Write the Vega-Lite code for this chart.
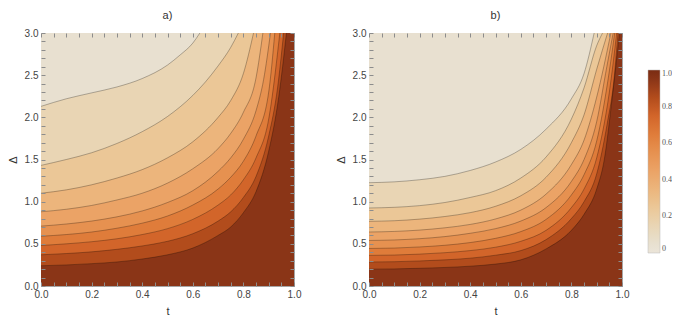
{
"$schema":"https://vega.github.io/schema/vega-lite/v6.json",
"padding":{"left":6,"top":9,"right":0,"bottom":0},
"config":{
 "view":{"stroke":"#a6a6a6","strokeWidth":1},
 "axis":{"domain":false,"grid":false,"zindex":1,"labelFlush":false,"labelFont":"Liberation Sans","labelFontSize":10,"labelColor":"#444","titleFont":"Liberation Sans","titleFontSize":11,"titleFontWeight":"normal","titleColor":"#333","tickColor":"#8c8c8c","tickWidth":1,"tickSize":4,"offset":-4},
 "title":{"font":"Liberation Sans","fontSize":11,"fontWeight":"normal","color":"#333","offset":7}
},
"datasets":{"c":[
{"p":"a","lev":1,"band":0.95,"t":0,"d":0},{"p":"a","lev":1,"band":0.95,"t":1,"d":0},
{"p":"a","lev":0.9,"band":0.85,"t":0,"d":0.24},{"p":"a","lev":0.9,"band":0.85,"t":0.1,"d":0.25},{"p":"a","lev":0.9,"band":0.85,"t":0.2,"d":0.265},{"p":"a","lev":0.9,"band":0.85,"t":0.3,"d":0.285},{"p":"a","lev":0.9,"band":0.85,"t":0.4,"d":0.32},{"p":"a","lev":0.9,"band":0.85,"t":0.5,"d":0.37},{"p":"a","lev":0.9,"band":0.85,"t":0.6,"d":0.45},{"p":"a","lev":0.9,"band":0.85,"t":0.7,"d":0.6},{"p":"a","lev":0.9,"band":0.85,"t":0.75,"d":0.7},{"p":"a","lev":0.9,"band":0.85,"t":0.8,"d":0.87},{"p":"a","lev":0.9,"band":0.85,"t":0.85,"d":1.12},{"p":"a","lev":0.9,"band":0.85,"t":0.9,"d":1.6},{"p":"a","lev":0.9,"band":0.85,"t":0.94,"d":2.25},{"p":"a","lev":0.9,"band":0.85,"t":0.97,"d":3.0},
{"p":"a","lev":0.8,"band":0.75,"t":0,"d":0.37},{"p":"a","lev":0.8,"band":0.75,"t":0.1,"d":0.385},{"p":"a","lev":0.8,"band":0.75,"t":0.2,"d":0.405},{"p":"a","lev":0.8,"band":0.75,"t":0.3,"d":0.435},{"p":"a","lev":0.8,"band":0.75,"t":0.4,"d":0.475},{"p":"a","lev":0.8,"band":0.75,"t":0.5,"d":0.53},{"p":"a","lev":0.8,"band":0.75,"t":0.6,"d":0.62},{"p":"a","lev":0.8,"band":0.75,"t":0.7,"d":0.77},{"p":"a","lev":0.8,"band":0.75,"t":0.75,"d":0.88},{"p":"a","lev":0.8,"band":0.75,"t":0.8,"d":1.05},{"p":"a","lev":0.8,"band":0.75,"t":0.85,"d":1.3},{"p":"a","lev":0.8,"band":0.75,"t":0.9,"d":1.78},{"p":"a","lev":0.8,"band":0.75,"t":0.935,"d":2.35},{"p":"a","lev":0.8,"band":0.75,"t":0.959,"d":3.0},
{"p":"a","lev":0.7,"band":0.65,"t":0,"d":0.48},{"p":"a","lev":0.7,"band":0.65,"t":0.1,"d":0.5},{"p":"a","lev":0.7,"band":0.65,"t":0.2,"d":0.525},{"p":"a","lev":0.7,"band":0.65,"t":0.3,"d":0.56},{"p":"a","lev":0.7,"band":0.65,"t":0.4,"d":0.61},{"p":"a","lev":0.7,"band":0.65,"t":0.5,"d":0.68},{"p":"a","lev":0.7,"band":0.65,"t":0.6,"d":0.79},{"p":"a","lev":0.7,"band":0.65,"t":0.7,"d":0.96},{"p":"a","lev":0.7,"band":0.65,"t":0.75,"d":1.08},{"p":"a","lev":0.7,"band":0.65,"t":0.8,"d":1.26},{"p":"a","lev":0.7,"band":0.65,"t":0.85,"d":1.52},{"p":"a","lev":0.7,"band":0.65,"t":0.9,"d":1.98},{"p":"a","lev":0.7,"band":0.65,"t":0.944,"d":3.0},
{"p":"a","lev":0.6,"band":0.55,"t":0,"d":0.59},{"p":"a","lev":0.6,"band":0.55,"t":0.1,"d":0.61},{"p":"a","lev":0.6,"band":0.55,"t":0.2,"d":0.64},{"p":"a","lev":0.6,"band":0.55,"t":0.3,"d":0.685},{"p":"a","lev":0.6,"band":0.55,"t":0.4,"d":0.745},{"p":"a","lev":0.6,"band":0.55,"t":0.5,"d":0.83},{"p":"a","lev":0.6,"band":0.55,"t":0.6,"d":0.96},{"p":"a","lev":0.6,"band":0.55,"t":0.7,"d":1.15},{"p":"a","lev":0.6,"band":0.55,"t":0.75,"d":1.29},{"p":"a","lev":0.6,"band":0.55,"t":0.8,"d":1.48},{"p":"a","lev":0.6,"band":0.55,"t":0.85,"d":1.78},{"p":"a","lev":0.6,"band":0.55,"t":0.9,"d":2.3},{"p":"a","lev":0.6,"band":0.55,"t":0.924,"d":3.0},
{"p":"a","lev":0.5,"band":0.45,"t":0,"d":0.71},{"p":"a","lev":0.5,"band":0.45,"t":0.1,"d":0.735},{"p":"a","lev":0.5,"band":0.45,"t":0.2,"d":0.77},{"p":"a","lev":0.5,"band":0.45,"t":0.3,"d":0.82},{"p":"a","lev":0.5,"band":0.45,"t":0.4,"d":0.89},{"p":"a","lev":0.5,"band":0.45,"t":0.5,"d":0.99},{"p":"a","lev":0.5,"band":0.45,"t":0.6,"d":1.13},{"p":"a","lev":0.5,"band":0.45,"t":0.7,"d":1.36},{"p":"a","lev":0.5,"band":0.45,"t":0.75,"d":1.52},{"p":"a","lev":0.5,"band":0.45,"t":0.8,"d":1.74},{"p":"a","lev":0.5,"band":0.45,"t":0.85,"d":2.08},{"p":"a","lev":0.5,"band":0.45,"t":0.88,"d":2.45},{"p":"a","lev":0.5,"band":0.45,"t":0.907,"d":3.0},
{"p":"a","lev":0.4,"band":0.35,"t":0,"d":0.88},{"p":"a","lev":0.4,"band":0.35,"t":0.1,"d":0.91},{"p":"a","lev":0.4,"band":0.35,"t":0.2,"d":0.955},{"p":"a","lev":0.4,"band":0.35,"t":0.3,"d":1.02},{"p":"a","lev":0.4,"band":0.35,"t":0.4,"d":1.1},{"p":"a","lev":0.4,"band":0.35,"t":0.5,"d":1.22},{"p":"a","lev":0.4,"band":0.35,"t":0.6,"d":1.39},{"p":"a","lev":0.4,"band":0.35,"t":0.7,"d":1.63},{"p":"a","lev":0.4,"band":0.35,"t":0.75,"d":1.81},{"p":"a","lev":0.4,"band":0.35,"t":0.8,"d":2.06},{"p":"a","lev":0.4,"band":0.35,"t":0.85,"d":2.47},{"p":"a","lev":0.4,"band":0.35,"t":0.877,"d":3.0},
{"p":"a","lev":0.3,"band":0.25,"t":0,"d":1.1},{"p":"a","lev":0.3,"band":0.25,"t":0.1,"d":1.14},{"p":"a","lev":0.3,"band":0.25,"t":0.2,"d":1.2},{"p":"a","lev":0.3,"band":0.25,"t":0.3,"d":1.28},{"p":"a","lev":0.3,"band":0.25,"t":0.4,"d":1.38},{"p":"a","lev":0.3,"band":0.25,"t":0.5,"d":1.52},{"p":"a","lev":0.3,"band":0.25,"t":0.6,"d":1.71},{"p":"a","lev":0.3,"band":0.25,"t":0.7,"d":2.0},{"p":"a","lev":0.3,"band":0.25,"t":0.75,"d":2.2},{"p":"a","lev":0.3,"band":0.25,"t":0.8,"d":2.52},{"p":"a","lev":0.3,"band":0.25,"t":0.84,"d":3.0},
{"p":"a","lev":0.2,"band":0.15,"t":0,"d":1.43},{"p":"a","lev":0.2,"band":0.15,"t":0.1,"d":1.5},{"p":"a","lev":0.2,"band":0.15,"t":0.2,"d":1.58},{"p":"a","lev":0.2,"band":0.15,"t":0.3,"d":1.69},{"p":"a","lev":0.2,"band":0.15,"t":0.4,"d":1.83},{"p":"a","lev":0.2,"band":0.15,"t":0.5,"d":2.01},{"p":"a","lev":0.2,"band":0.15,"t":0.6,"d":2.26},{"p":"a","lev":0.2,"band":0.15,"t":0.65,"d":2.42},{"p":"a","lev":0.2,"band":0.15,"t":0.7,"d":2.61},{"p":"a","lev":0.2,"band":0.15,"t":0.75,"d":2.83},{"p":"a","lev":0.2,"band":0.15,"t":0.78,"d":3.0},
{"p":"a","lev":0.1,"band":0.05,"t":0,"d":2.13},{"p":"a","lev":0.1,"band":0.05,"t":0.1,"d":2.22},{"p":"a","lev":0.1,"band":0.05,"t":0.2,"d":2.29},{"p":"a","lev":0.1,"band":0.05,"t":0.3,"d":2.36},{"p":"a","lev":0.1,"band":0.05,"t":0.4,"d":2.46},{"p":"a","lev":0.1,"band":0.05,"t":0.5,"d":2.62},{"p":"a","lev":0.1,"band":0.05,"t":0.55,"d":2.74},{"p":"a","lev":0.1,"band":0.05,"t":0.6,"d":2.88},{"p":"a","lev":0.1,"band":0.05,"t":0.628,"d":3.0},
{"p":"b","lev":1,"band":0.95,"t":0,"d":0},{"p":"b","lev":1,"band":0.95,"t":1,"d":0},
{"p":"b","lev":0.9,"band":0.85,"t":0,"d":0.2},{"p":"b","lev":0.9,"band":0.85,"t":0.1,"d":0.203},{"p":"b","lev":0.9,"band":0.85,"t":0.2,"d":0.21},{"p":"b","lev":0.9,"band":0.85,"t":0.3,"d":0.22},{"p":"b","lev":0.9,"band":0.85,"t":0.4,"d":0.235},{"p":"b","lev":0.9,"band":0.85,"t":0.5,"d":0.26},{"p":"b","lev":0.9,"band":0.85,"t":0.6,"d":0.31},{"p":"b","lev":0.9,"band":0.85,"t":0.7,"d":0.44},{"p":"b","lev":0.9,"band":0.85,"t":0.8,"d":0.66},{"p":"b","lev":0.9,"band":0.85,"t":0.85,"d":0.85},{"p":"b","lev":0.9,"band":0.85,"t":0.9,"d":1.15},{"p":"b","lev":0.9,"band":0.85,"t":0.93,"d":1.5},{"p":"b","lev":0.9,"band":0.85,"t":0.96,"d":2.2},{"p":"b","lev":0.9,"band":0.85,"t":0.99,"d":3.0},
{"p":"b","lev":0.8,"band":0.75,"t":0,"d":0.285},{"p":"b","lev":0.8,"band":0.75,"t":0.1,"d":0.288},{"p":"b","lev":0.8,"band":0.75,"t":0.2,"d":0.297},{"p":"b","lev":0.8,"band":0.75,"t":0.3,"d":0.31},{"p":"b","lev":0.8,"band":0.75,"t":0.4,"d":0.33},{"p":"b","lev":0.8,"band":0.75,"t":0.5,"d":0.365},{"p":"b","lev":0.8,"band":0.75,"t":0.6,"d":0.42},{"p":"b","lev":0.8,"band":0.75,"t":0.7,"d":0.55},{"p":"b","lev":0.8,"band":0.75,"t":0.8,"d":0.8},{"p":"b","lev":0.8,"band":0.75,"t":0.85,"d":1.0},{"p":"b","lev":0.8,"band":0.75,"t":0.9,"d":1.33},{"p":"b","lev":0.8,"band":0.75,"t":0.94,"d":1.9},{"p":"b","lev":0.8,"band":0.75,"t":0.97,"d":2.5},{"p":"b","lev":0.8,"band":0.75,"t":0.984,"d":3.0},
{"p":"b","lev":0.7,"band":0.65,"t":0,"d":0.363},{"p":"b","lev":0.7,"band":0.65,"t":0.1,"d":0.367},{"p":"b","lev":0.7,"band":0.65,"t":0.2,"d":0.378},{"p":"b","lev":0.7,"band":0.65,"t":0.3,"d":0.395},{"p":"b","lev":0.7,"band":0.65,"t":0.4,"d":0.42},{"p":"b","lev":0.7,"band":0.65,"t":0.5,"d":0.46},{"p":"b","lev":0.7,"band":0.65,"t":0.6,"d":0.53},{"p":"b","lev":0.7,"band":0.65,"t":0.7,"d":0.66},{"p":"b","lev":0.7,"band":0.65,"t":0.8,"d":0.93},{"p":"b","lev":0.7,"band":0.65,"t":0.85,"d":1.15},{"p":"b","lev":0.7,"band":0.65,"t":0.9,"d":1.52},{"p":"b","lev":0.7,"band":0.65,"t":0.95,"d":2.3},{"p":"b","lev":0.7,"band":0.65,"t":0.979,"d":3.0},
{"p":"b","lev":0.6,"band":0.55,"t":0,"d":0.445},{"p":"b","lev":0.6,"band":0.55,"t":0.1,"d":0.45},{"p":"b","lev":0.6,"band":0.55,"t":0.2,"d":0.463},{"p":"b","lev":0.6,"band":0.55,"t":0.3,"d":0.483},{"p":"b","lev":0.6,"band":0.55,"t":0.4,"d":0.515},{"p":"b","lev":0.6,"band":0.55,"t":0.5,"d":0.565},{"p":"b","lev":0.6,"band":0.55,"t":0.6,"d":0.645},{"p":"b","lev":0.6,"band":0.55,"t":0.7,"d":0.79},{"p":"b","lev":0.6,"band":0.55,"t":0.8,"d":1.08},{"p":"b","lev":0.6,"band":0.55,"t":0.85,"d":1.32},{"p":"b","lev":0.6,"band":0.55,"t":0.9,"d":1.72},{"p":"b","lev":0.6,"band":0.55,"t":0.95,"d":2.55},{"p":"b","lev":0.6,"band":0.55,"t":0.971,"d":3.0},
{"p":"b","lev":0.5,"band":0.45,"t":0,"d":0.54},{"p":"b","lev":0.5,"band":0.45,"t":0.1,"d":0.546},{"p":"b","lev":0.5,"band":0.45,"t":0.2,"d":0.561},{"p":"b","lev":0.5,"band":0.45,"t":0.3,"d":0.586},{"p":"b","lev":0.5,"band":0.45,"t":0.4,"d":0.625},{"p":"b","lev":0.5,"band":0.45,"t":0.5,"d":0.68},{"p":"b","lev":0.5,"band":0.45,"t":0.6,"d":0.77},{"p":"b","lev":0.5,"band":0.45,"t":0.7,"d":0.93},{"p":"b","lev":0.5,"band":0.45,"t":0.8,"d":1.24},{"p":"b","lev":0.5,"band":0.45,"t":0.85,"d":1.5},{"p":"b","lev":0.5,"band":0.45,"t":0.9,"d":1.95},{"p":"b","lev":0.5,"band":0.45,"t":0.94,"d":2.6},{"p":"b","lev":0.5,"band":0.45,"t":0.965,"d":3.0},
{"p":"b","lev":0.4,"band":0.35,"t":0,"d":0.64},{"p":"b","lev":0.4,"band":0.35,"t":0.1,"d":0.647},{"p":"b","lev":0.4,"band":0.35,"t":0.2,"d":0.663},{"p":"b","lev":0.4,"band":0.35,"t":0.3,"d":0.69},{"p":"b","lev":0.4,"band":0.35,"t":0.4,"d":0.73},{"p":"b","lev":0.4,"band":0.35,"t":0.5,"d":0.795},{"p":"b","lev":0.4,"band":0.35,"t":0.6,"d":0.9},{"p":"b","lev":0.4,"band":0.35,"t":0.7,"d":1.09},{"p":"b","lev":0.4,"band":0.35,"t":0.8,"d":1.44},{"p":"b","lev":0.4,"band":0.35,"t":0.85,"d":1.73},{"p":"b","lev":0.4,"band":0.35,"t":0.9,"d":2.24},{"p":"b","lev":0.4,"band":0.35,"t":0.956,"d":3.0},
{"p":"b","lev":0.3,"band":0.25,"t":0,"d":0.767},{"p":"b","lev":0.3,"band":0.25,"t":0.1,"d":0.774},{"p":"b","lev":0.3,"band":0.25,"t":0.2,"d":0.793},{"p":"b","lev":0.3,"band":0.25,"t":0.3,"d":0.824},{"p":"b","lev":0.3,"band":0.25,"t":0.4,"d":0.87},{"p":"b","lev":0.3,"band":0.25,"t":0.5,"d":0.945},{"p":"b","lev":0.3,"band":0.25,"t":0.6,"d":1.07},{"p":"b","lev":0.3,"band":0.25,"t":0.7,"d":1.29},{"p":"b","lev":0.3,"band":0.25,"t":0.8,"d":1.7},{"p":"b","lev":0.3,"band":0.25,"t":0.85,"d":2.03},{"p":"b","lev":0.3,"band":0.25,"t":0.9,"d":2.57},{"p":"b","lev":0.3,"band":0.25,"t":0.943,"d":3.0},
{"p":"b","lev":0.2,"band":0.15,"t":0,"d":0.925},{"p":"b","lev":0.2,"band":0.15,"t":0.1,"d":0.933},{"p":"b","lev":0.2,"band":0.15,"t":0.2,"d":0.953},{"p":"b","lev":0.2,"band":0.15,"t":0.3,"d":0.99},{"p":"b","lev":0.2,"band":0.15,"t":0.4,"d":1.05},{"p":"b","lev":0.2,"band":0.15,"t":0.5,"d":1.13},{"p":"b","lev":0.2,"band":0.15,"t":0.6,"d":1.28},{"p":"b","lev":0.2,"band":0.15,"t":0.7,"d":1.53},{"p":"b","lev":0.2,"band":0.15,"t":0.8,"d":1.98},{"p":"b","lev":0.2,"band":0.15,"t":0.85,"d":2.35},{"p":"b","lev":0.2,"band":0.15,"t":0.9,"d":2.85},{"p":"b","lev":0.2,"band":0.15,"t":0.923,"d":3.0},
{"p":"b","lev":0.1,"band":0.05,"t":0,"d":1.225},{"p":"b","lev":0.1,"band":0.05,"t":0.1,"d":1.235},{"p":"b","lev":0.1,"band":0.05,"t":0.2,"d":1.26},{"p":"b","lev":0.1,"band":0.05,"t":0.3,"d":1.3},{"p":"b","lev":0.1,"band":0.05,"t":0.4,"d":1.37},{"p":"b","lev":0.1,"band":0.05,"t":0.5,"d":1.47},{"p":"b","lev":0.1,"band":0.05,"t":0.6,"d":1.62},{"p":"b","lev":0.1,"band":0.05,"t":0.7,"d":1.86},{"p":"b","lev":0.1,"band":0.05,"t":0.8,"d":2.22},{"p":"b","lev":0.1,"band":0.05,"t":0.85,"d":2.52},{"p":"b","lev":0.1,"band":0.05,"t":0.89,"d":3.0}
]},
"data":{"name":"c"},
"resolve":{"scale":{"color":"shared"},"legend":{"color":"shared"}},
"spacing":32,
"hconcat":[
{"width":253,"height":253,"title":"a)",
 "transform":[{"filter":"datum.p=='a'"}],
 "resolve":{"axis":{"x":"independent","y":"independent"}},
 "layer":[
  {"mark":{"type":"area","clip":true,"interpolate":"monotone"},
   "encoding":{
    "x":{"field":"t","type":"quantitative","scale":{"domain":[0,1],"nice":false},"axis":{"orient":"bottom","zindex":2,"title":"t","values":[0,0.05,0.1,0.15,0.2,0.25,0.3,0.35,0.4,0.45,0.5,0.55,0.6,0.65,0.7,0.75,0.8,0.85,0.9,0.95,1],"labelExpr":"abs(datum.value*5-round(datum.value*5))<0.001 ? format(datum.value,'.1f') : ''","labelPadding":3,"titlePadding":6}},
    "y":{"field":"d","type":"quantitative","scale":{"domain":[0,3],"nice":false},"axis":{"orient":"left","zindex":2,"title":"Δ","values":[0,0.1,0.2,0.3,0.4,0.5,0.6,0.7,0.8,0.9,1,1.1,1.2,1.3,1.4,1.5,1.6,1.7,1.8,1.9,2,2.1,2.2,2.3,2.4,2.5,2.6,2.7,2.8,2.9,3],"labelExpr":"abs(datum.value*2-round(datum.value*2))<0.001 ? format(datum.value,'.1f') : ''","labelPadding":3,"titlePadding":6}},
    "y2":{"datum":3},
    "color":{"field":"band","type":"quantitative","scale":{"domain":[0,0.05,0.15,0.25,0.35,0.45,0.55,0.65,0.75,0.85,0.95,1],"range":["#ebe5d9","#e8e0d0","#e9d5b4","#ebc797","#ecb57c","#eba366","#e69150","#df7c3a","#d2652a","#b24c1c","#8a3517","#7a2c12"]},
     "legend":{"orient":"none","legendX":607,"legendY":37,"title":null,"gradientLength":183,"gradientThickness":12,"values":[0,0.2,0.4,0.6,0.8,1],"labelExpr":"datum.value==0 ? '0' : format(datum.value,'.1f')","labelFont":"Liberation Serif","labelFontSize":8,"labelColor":"#555","gradientStrokeColor":"#bbb","gradientStrokeWidth":0.5}}
   }},
  {"transform":[{"filter":"datum.lev<1"}],
   "mark":{"type":"line","clip":true,"interpolate":"monotone","color":"#000","opacity":0.35,"strokeWidth":0.8},
   "encoding":{
    "x":{"field":"t","type":"quantitative","scale":{"domain":[0,1],"nice":false},"axis":{"orient":"top","zindex":2,"title":null,"labels":false,"values":[0,0.05,0.1,0.15,0.2,0.25,0.3,0.35,0.4,0.45,0.5,0.55,0.6,0.65,0.7,0.75,0.8,0.85,0.9,0.95,1]}},
    "y":{"field":"d","type":"quantitative","scale":{"domain":[0,3],"nice":false},"axis":{"orient":"right","zindex":2,"title":null,"labels":false,"values":[0,0.1,0.2,0.3,0.4,0.5,0.6,0.7,0.8,0.9,1,1.1,1.2,1.3,1.4,1.5,1.6,1.7,1.8,1.9,2,2.1,2.2,2.3,2.4,2.5,2.6,2.7,2.8,2.9,3]}},
    "detail":{"field":"lev"}
   }}
 ]},
{"width":253,"height":253,"title":"b)",
 "transform":[{"filter":"datum.p=='b'"}],
 "resolve":{"axis":{"x":"independent","y":"independent"}},
 "layer":[
  {"mark":{"type":"area","clip":true,"interpolate":"monotone"},
   "encoding":{
    "x":{"field":"t","type":"quantitative","scale":{"domain":[0,1],"nice":false},"axis":{"orient":"bottom","zindex":2,"title":"t","values":[0,0.05,0.1,0.15,0.2,0.25,0.3,0.35,0.4,0.45,0.5,0.55,0.6,0.65,0.7,0.75,0.8,0.85,0.9,0.95,1],"labelExpr":"abs(datum.value*5-round(datum.value*5))<0.001 ? format(datum.value,'.1f') : ''","labelPadding":3,"titlePadding":6}},
    "y":{"field":"d","type":"quantitative","scale":{"domain":[0,3],"nice":false},"axis":{"orient":"left","zindex":2,"title":"Δ","values":[0,0.1,0.2,0.3,0.4,0.5,0.6,0.7,0.8,0.9,1,1.1,1.2,1.3,1.4,1.5,1.6,1.7,1.8,1.9,2,2.1,2.2,2.3,2.4,2.5,2.6,2.7,2.8,2.9,3],"labelExpr":"abs(datum.value*2-round(datum.value*2))<0.001 ? format(datum.value,'.1f') : ''","labelPadding":3,"titlePadding":6}},
    "y2":{"datum":3},
    "color":{"field":"band","type":"quantitative","scale":{"domain":[0,0.05,0.15,0.25,0.35,0.45,0.55,0.65,0.75,0.85,0.95,1],"range":["#ebe5d9","#e8e0d0","#e9d5b4","#ebc797","#ecb57c","#eba366","#e69150","#df7c3a","#d2652a","#b24c1c","#8a3517","#7a2c12"]},
     "legend":{"orient":"none","legendX":607,"legendY":37,"title":null,"gradientLength":183,"gradientThickness":12,"values":[0,0.2,0.4,0.6,0.8,1],"labelExpr":"datum.value==0 ? '0' : format(datum.value,'.1f')","labelFont":"Liberation Serif","labelFontSize":8,"labelColor":"#555","gradientStrokeColor":"#bbb","gradientStrokeWidth":0.5}}
   }},
  {"transform":[{"filter":"datum.lev<1"}],
   "mark":{"type":"line","clip":true,"interpolate":"monotone","color":"#000","opacity":0.35,"strokeWidth":0.8},
   "encoding":{
    "x":{"field":"t","type":"quantitative","scale":{"domain":[0,1],"nice":false},"axis":{"orient":"top","zindex":2,"title":null,"labels":false,"values":[0,0.05,0.1,0.15,0.2,0.25,0.3,0.35,0.4,0.45,0.5,0.55,0.6,0.65,0.7,0.75,0.8,0.85,0.9,0.95,1]}},
    "y":{"field":"d","type":"quantitative","scale":{"domain":[0,3],"nice":false},"axis":{"orient":"right","zindex":2,"title":null,"labels":false,"values":[0,0.1,0.2,0.3,0.4,0.5,0.6,0.7,0.8,0.9,1,1.1,1.2,1.3,1.4,1.5,1.6,1.7,1.8,1.9,2,2.1,2.2,2.3,2.4,2.5,2.6,2.7,2.8,2.9,3]}},
    "detail":{"field":"lev"}
   }}
 ]}
]
}
